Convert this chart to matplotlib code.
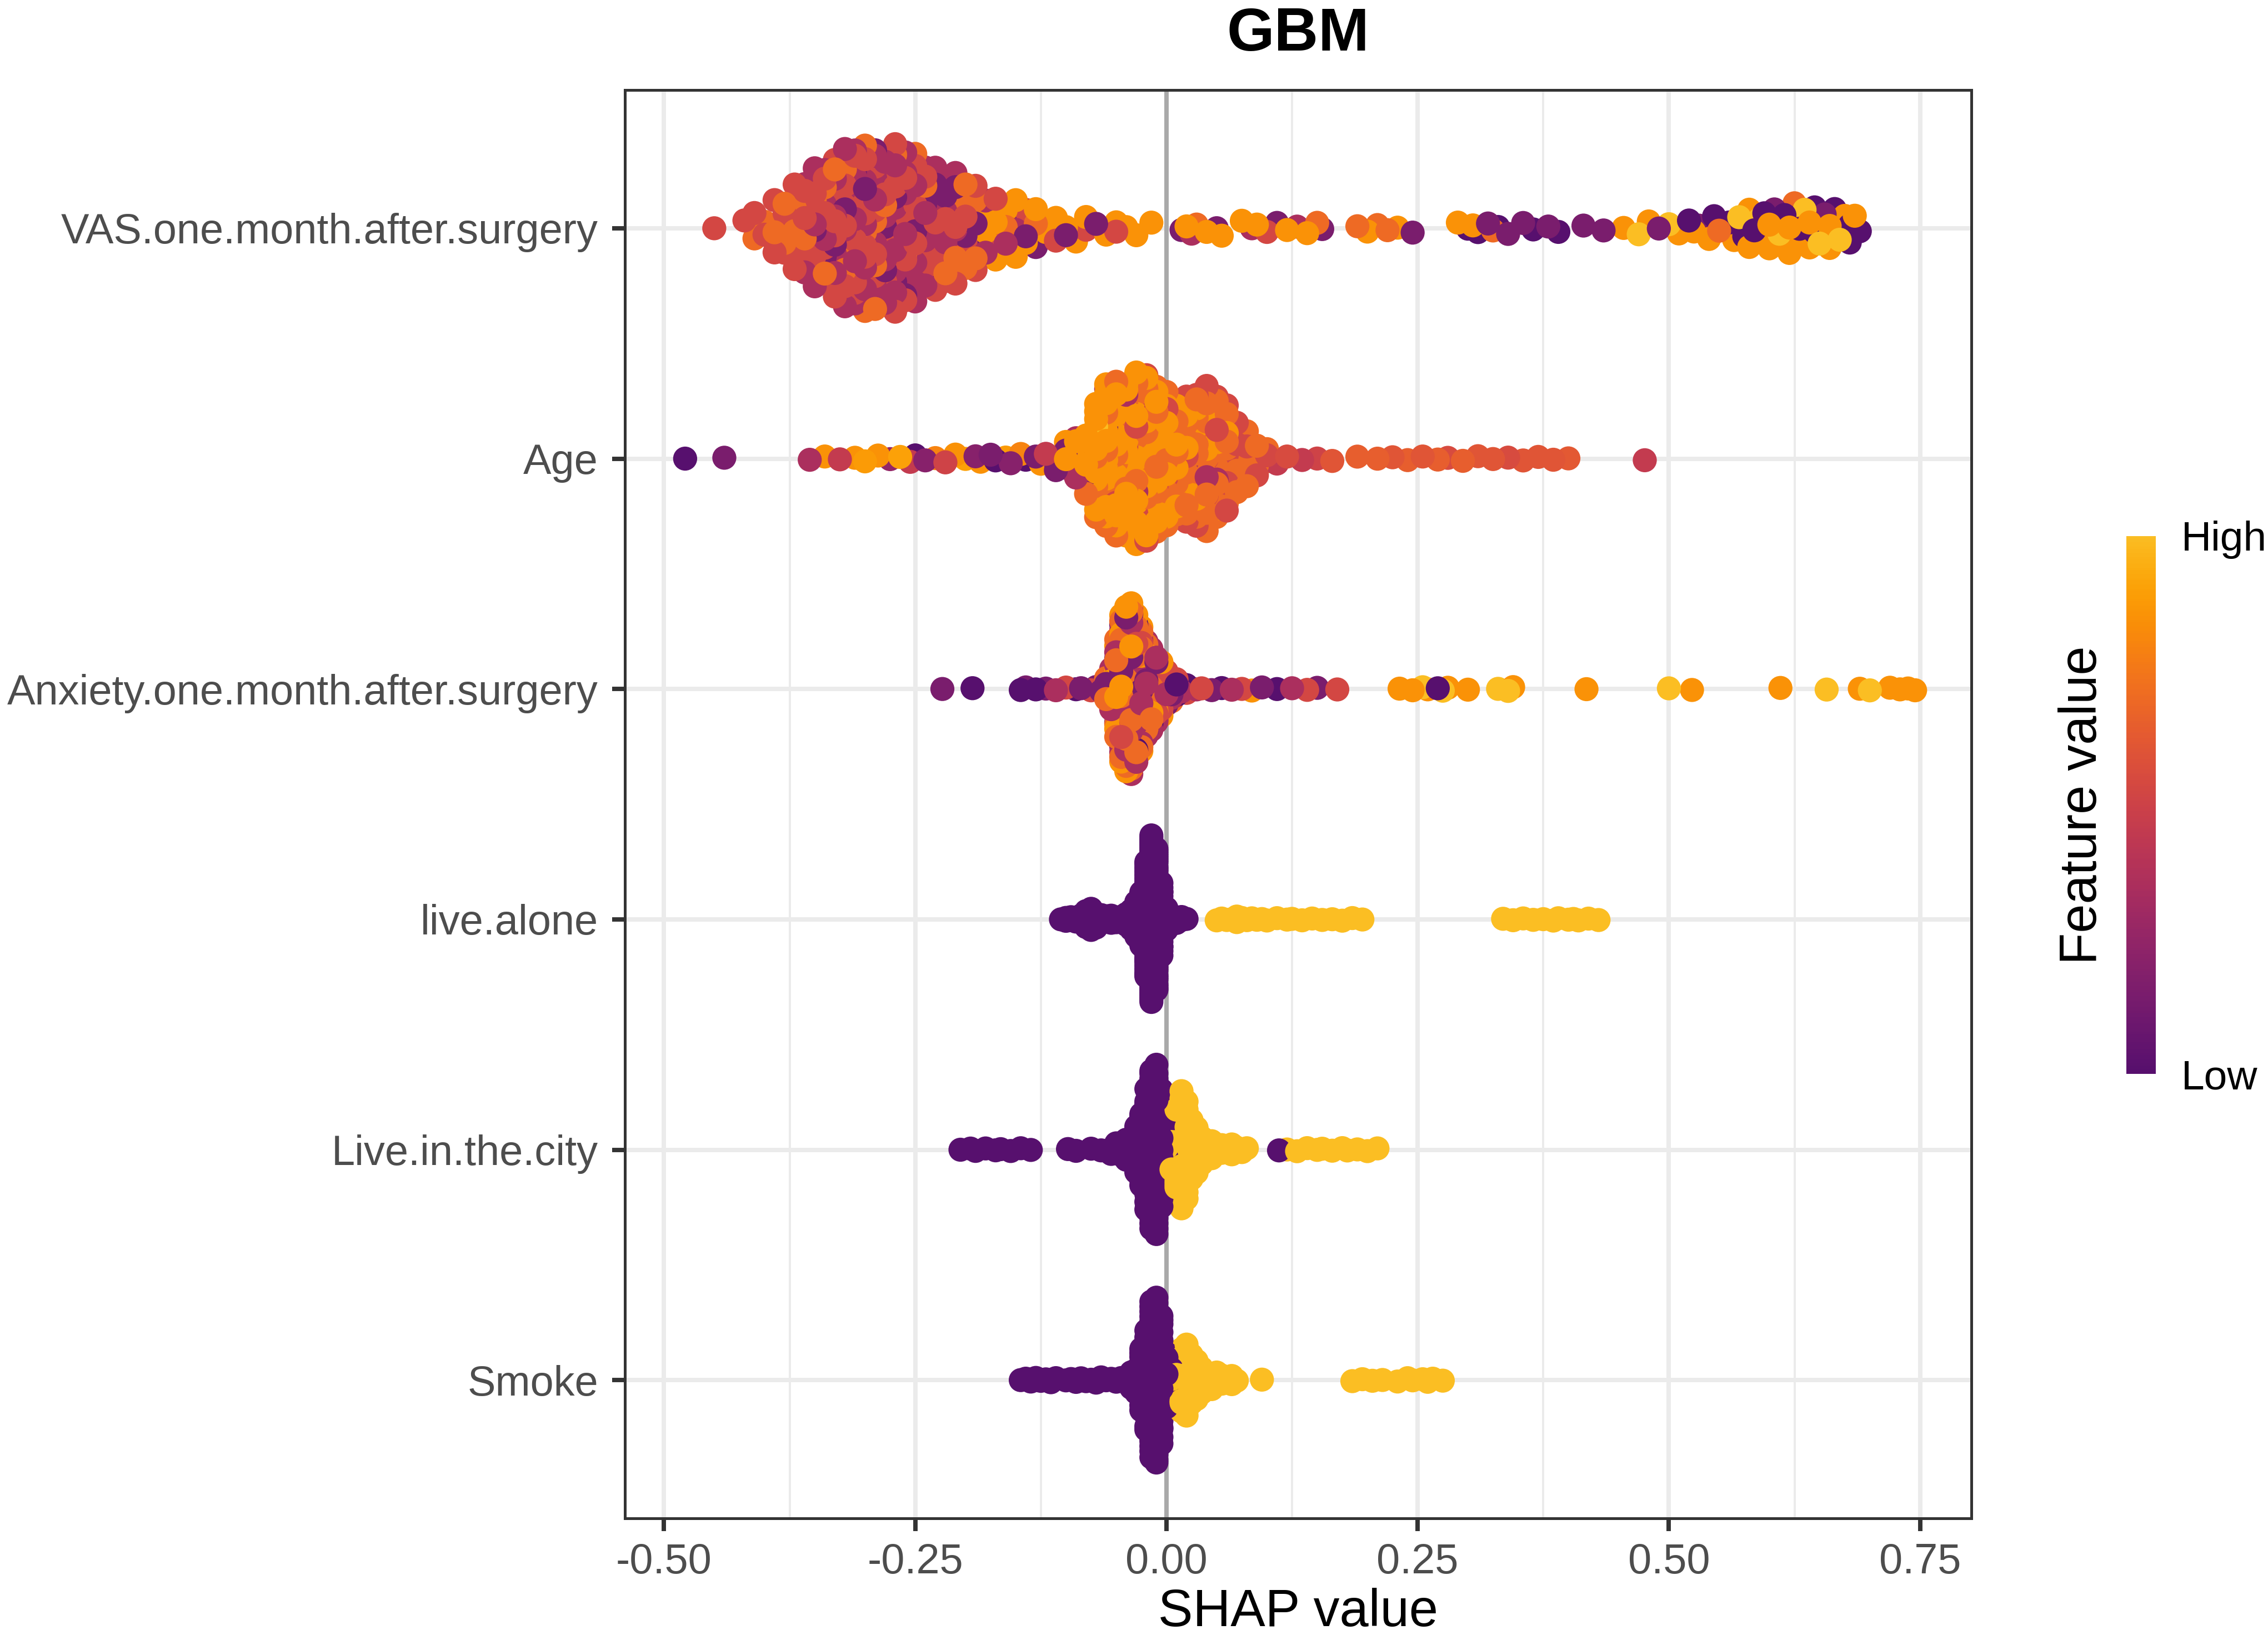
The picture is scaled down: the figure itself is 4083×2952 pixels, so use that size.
import numpy as np
import matplotlib.pyplot as plt
from matplotlib.colors import LinearSegmentedColormap

plt.rcParams['font.family'] = ['Liberation Sans', 'DejaVu Sans']

features = ['VAS.one.month.after.surgery', 'Age', 'Anxiety.one.month.after.surgery',
            'live.alone', 'Live.in.the.city', 'Smoke']

# (SHAP value, scaled feature value 0..1, number of points)
vas = [
    (-0.45, 0.53, 1),
    (-0.42, 0.53, 1), (-0.41, 0.70, 1), (-0.41, 0.53, 1),
    (-0.40, 0.53, 1), (-0.40, 0.70, 1),
    (-0.39, 0.53, 2), (-0.39, 0.70, 1),
    (-0.38, 0.53, 2), (-0.38, 0.70, 2),
    (-0.37, 0.53, 3), (-0.37, 0.70, 2),
    (-0.36, 0.53, 4), (-0.36, 0.35, 2), (-0.36, 0.70, 1),
    (-0.35, 0.53, 4), (-0.35, 0.35, 3), (-0.35, 0.15, 1), (-0.35, 0.70, 1),
    (-0.34, 0.53, 5), (-0.34, 0.35, 3), (-0.34, 0.70, 2), (-0.34, 0.15, 1),
    (-0.33, 0.53, 5), (-0.33, 0.35, 4), (-0.33, 0.70, 2), (-0.33, 0.15, 1),
    (-0.32, 0.53, 5), (-0.32, 0.35, 4), (-0.32, 0.70, 3), (-0.32, 0.15, 1),
    (-0.31, 0.53, 5), (-0.31, 0.35, 5), (-0.31, 0.70, 3), (-0.31, 0.15, 1),
    (-0.30, 0.53, 5), (-0.30, 0.35, 5), (-0.30, 0.70, 3), (-0.30, 0.15, 1),
    (-0.29, 0.53, 5), (-0.29, 0.35, 5), (-0.29, 0.70, 3), (-0.29, 0.15, 1),
    (-0.28, 0.53, 4), (-0.28, 0.35, 5), (-0.28, 0.70, 3), (-0.28, 0.15, 2),
    (-0.27, 0.53, 4), (-0.27, 0.35, 5), (-0.27, 0.70, 2), (-0.27, 0.15, 2),
    (-0.26, 0.53, 4), (-0.26, 0.35, 5), (-0.26, 0.70, 1), (-0.26, 0.15, 2),
    (-0.25, 0.53, 3), (-0.25, 0.35, 5), (-0.25, 0.70, 1), (-0.25, 0.15, 2),
    (-0.24, 0.53, 3), (-0.24, 0.35, 4), (-0.24, 0.15, 2), (-0.24, 0.70, 1),
    (-0.23, 0.53, 3), (-0.23, 0.35, 4), (-0.23, 0.15, 2),
    (-0.22, 0.53, 2), (-0.22, 0.35, 3), (-0.22, 0.70, 1), (-0.22, 0.15, 2),
    (-0.21, 0.53, 2), (-0.21, 0.35, 2), (-0.21, 0.70, 2), (-0.21, 0.15, 1),
    (-0.20, 0.53, 2), (-0.20, 0.70, 2), (-0.20, 0.15, 2),
    (-0.19, 0.70, 2), (-0.19, 0.15, 2), (-0.19, 0.53, 2),
    (-0.18, 0.85, 2), (-0.18, 0.35, 2), (-0.18, 0.53, 1),
    (-0.17, 0.85, 2), (-0.17, 0.53, 2), (-0.17, 0.15, 1),
    (-0.16, 0.85, 2), (-0.16, 0.35, 1), (-0.16, 0.70, 1),
    (-0.15, 0.85, 2), (-0.15, 0.35, 1), (-0.15, 0.15, 1),
    (-0.14, 0.85, 1), (-0.14, 0.53, 1), (-0.14, 0.15, 1),
    (-0.13, 0.70, 1), (-0.13, 0.15, 1), (-0.13, 0.85, 1),
    (-0.12, 0.85, 1), (-0.12, 0.15, 1),
    (-0.11, 0.53, 1), (-0.11, 0.85, 1),
    (-0.10, 0.15, 1), (-0.10, 0.85, 1),
    (-0.09, 0.85, 1), (-0.08, 0.85, 1), (-0.08, 0.53, 1),
    (-0.07, 0.15, 1), (-0.06, 0.85, 1), (-0.05, 0.85, 1), (-0.05, 0.53, 1),
    (-0.04, 0.85, 1), (-0.03, 0.85, 1), (-0.015, 0.85, 1),
    (0.015, 0.15, 1), (0.02, 0.85, 1), (0.025, 0.35, 1), (0.03, 0.70, 1),
    (0.04, 0.85, 1), (0.05, 0.15, 1), (0.055, 0.85, 1),
    (0.075, 0.85, 1), (0.085, 0.35, 1), (0.09, 0.85, 1), (0.10, 0.53, 1),
    (0.11, 0.15, 1), (0.12, 0.85, 1), (0.13, 0.35, 1), (0.14, 0.85, 1),
    (0.15, 0.70, 1), (0.155, 0.15, 1),
    (0.19, 0.70, 1), (0.20, 0.85, 1), (0.21, 0.70, 1), (0.22, 0.70, 1),
    (0.23, 0.85, 1), (0.245, 0.15, 1),
    (0.29, 0.85, 1), (0.30, 0.0, 1), (0.305, 0.85, 1), (0.31, 0.0, 1),
    (0.32, 0.15, 1), (0.325, 0.70, 1), (0.33, 0.0, 1), (0.34, 0.15, 1),
    (0.355, 0.15, 1), (0.365, 0.0, 1), (0.38, 0.15, 1), (0.39, 0.0, 1),
    (0.415, 0.15, 1), (0.435, 0.15, 1),
    (0.455, 0.85, 1), (0.47, 1.0, 1), (0.48, 0.85, 1), (0.49, 0.15, 1),
    (0.50, 1.0, 1), (0.51, 0.85, 1), (0.52, 0.0, 1), (0.525, 0.85, 1),
    (0.53, 0.15, 1), (0.54, 0.85, 1), (0.545, 0.0, 1), (0.55, 0.70, 1),
    (0.56, 0.0, 1), (0.565, 0.85, 1), (0.57, 1.0, 1), (0.575, 0.0, 2),
    (0.58, 0.85, 2), (0.585, 0.0, 1), (0.59, 1.0, 1), (0.595, 0.0, 2),
    (0.60, 0.85, 3), (0.605, 0.15, 1), (0.61, 1.0, 2), (0.615, 0.0, 2),
    (0.62, 0.85, 3), (0.625, 0.70, 1), (0.63, 0.0, 2), (0.635, 1.0, 2),
    (0.64, 0.85, 3), (0.645, 0.0, 2), (0.65, 1.0, 2), (0.655, 0.15, 1),
    (0.66, 0.85, 3), (0.665, 0.0, 2), (0.67, 1.0, 2), (0.675, 0.85, 2),
    (0.68, 0.0, 2), (0.685, 0.85, 1), (0.69, 0.0, 1),
]

age = [
    (-0.479, 0.0, 1), (-0.44, 0.15, 1), (-0.355, 0.35, 1), (-0.34, 0.85, 1),
    (-0.325, 0.45, 1), (-0.31, 0.85, 1), (-0.30, 0.88, 1), (-0.287, 0.85, 1),
    (-0.275, 0.25, 1), (-0.265, 0.90, 1), (-0.255, 0.45, 1), (-0.25, 0.0, 1),
    (-0.24, 0.20, 1), (-0.23, 0.80, 1), (-0.22, 0.50, 1), (-0.21, 0.85, 1),
    (-0.20, 0.90, 1), (-0.19, 0.20, 1), (-0.185, 0.85, 1), (-0.175, 0.15, 1),
    (-0.17, 0.0, 1), (-0.16, 0.88, 1), (-0.155, 0.20, 1), (-0.145, 0.80, 1),
    (-0.14, 0.0, 1), (-0.13, 0.15, 1), (-0.125, 0.85, 1), (-0.12, 0.45, 1),
    (-0.11, 0.35, 2), (-0.11, 0.15, 1),
    (-0.10, 0.85, 2), (-0.10, 0.15, 2),
    (-0.09, 0.85, 3), (-0.09, 0.35, 2),
    (-0.08, 0.85, 4), (-0.08, 0.15, 1), (-0.08, 0.53, 1), (-0.08, 0.70, 1),
    (-0.07, 0.85, 10), (-0.07, 0.35, 2), (-0.07, 1.0, 1), (-0.07, 0.70, 3),
    (-0.06, 0.85, 12), (-0.06, 0.70, 4), (-0.06, 0.35, 2), (-0.06, 0.15, 1),
    (-0.05, 0.85, 11), (-0.05, 0.70, 5), (-0.05, 0.53, 2), (-0.05, 1.0, 1),
    (-0.04, 0.85, 11), (-0.04, 0.70, 5), (-0.04, 0.53, 2), (-0.04, 0.35, 1),
    (-0.03, 0.85, 11), (-0.03, 0.70, 6), (-0.03, 0.53, 3), (-0.03, 0.35, 1),
    (-0.02, 0.85, 10), (-0.02, 0.70, 7), (-0.02, 0.53, 3), (-0.02, 0.15, 1),
    (-0.01, 0.85, 9), (-0.01, 0.70, 7), (-0.01, 0.53, 3), (-0.01, 0.35, 1),
    (0.00, 0.85, 6), (0.00, 0.70, 6), (0.00, 0.53, 3),
    (0.01, 0.85, 4), (0.01, 0.70, 6), (0.01, 0.53, 3),
    (0.02, 0.85, 4), (0.02, 0.70, 7), (0.02, 0.53, 3), (0.02, 0.35, 1),
    (0.03, 0.85, 4), (0.03, 0.70, 9), (0.03, 0.53, 4), (0.03, 0.35, 1),
    (0.04, 0.85, 3), (0.04, 0.70, 9), (0.04, 0.53, 5), (0.04, 0.35, 1),
    (0.05, 0.85, 2), (0.05, 0.70, 8), (0.05, 0.53, 5), (0.05, 0.35, 1),
    (0.06, 0.70, 7), (0.06, 0.53, 5), (0.06, 0.85, 1),
    (0.07, 0.70, 5), (0.07, 0.53, 4), (0.07, 0.35, 1),
    (0.08, 0.70, 4), (0.08, 0.53, 3),
    (0.09, 0.70, 2), (0.09, 0.53, 2),
    (0.10, 0.70, 2), (0.10, 0.53, 1),
    (0.11, 0.45, 1), (0.12, 0.55, 1), (0.135, 0.45, 1), (0.15, 0.50, 1),
    (0.165, 0.60, 1), (0.19, 0.65, 1), (0.21, 0.65, 1), (0.225, 0.60, 1),
    (0.24, 0.65, 1), (0.255, 0.60, 1), (0.27, 0.65, 1), (0.28, 0.55, 1),
    (0.295, 0.65, 1), (0.31, 0.60, 1), (0.325, 0.60, 1), (0.34, 0.55, 1),
    (0.355, 0.60, 1), (0.37, 0.60, 1), (0.385, 0.60, 1), (0.40, 0.62, 1),
    (0.476, 0.45, 1),
]

anxiety = [
    (-0.223, 0.15, 1), (-0.193, 0.0, 1), (-0.145, 0.0, 1), (-0.14, 0.15, 1),
    (-0.13, 0.0, 1), (-0.12, 0.15, 1), (-0.11, 0.35, 1), (-0.10, 0.53, 1),
    (-0.09, 0.0, 1), (-0.085, 0.15, 1), (-0.075, 0.53, 1), (-0.07, 0.15, 1),
    (-0.065, 0.15, 1), (-0.065, 0.85, 1),
    (-0.06, 0.70, 2), (-0.06, 0.15, 2),
    (-0.055, 0.70, 3), (-0.055, 0.35, 3), (-0.055, 0.85, 2),
    (-0.05, 0.70, 6), (-0.05, 0.35, 5), (-0.05, 0.85, 5), (-0.05, 0.0, 2), (-0.05, 0.53, 2),
    (-0.045, 0.70, 8), (-0.045, 0.35, 7), (-0.045, 0.85, 7), (-0.045, 0.15, 4), (-0.045, 0.53, 4),
    (-0.04, 0.70, 9), (-0.04, 0.35, 8), (-0.04, 0.85, 8), (-0.04, 0.15, 4), (-0.04, 0.53, 5),
    (-0.035, 0.70, 9), (-0.035, 0.35, 8), (-0.035, 0.85, 8), (-0.035, 0.15, 4), (-0.035, 0.53, 5),
    (-0.03, 0.70, 8), (-0.03, 0.35, 7), (-0.03, 0.85, 7), (-0.03, 0.0, 3), (-0.03, 0.53, 5),
    (-0.025, 0.70, 6), (-0.025, 0.35, 6), (-0.025, 0.85, 6), (-0.025, 0.15, 3), (-0.025, 0.53, 3),
    (-0.02, 0.70, 5), (-0.02, 0.35, 5), (-0.02, 0.85, 5), (-0.02, 0.15, 3), (-0.02, 0.53, 2),
    (-0.015, 0.70, 4), (-0.015, 0.35, 4), (-0.015, 0.85, 4), (-0.015, 0.0, 2), (-0.015, 0.53, 2),
    (-0.01, 0.53, 4), (-0.01, 0.35, 4), (-0.01, 0.85, 3), (-0.01, 0.15, 3),
    (-0.005, 0.53, 3), (-0.005, 0.15, 3), (-0.005, 0.85, 2), (-0.005, 0.35, 2),
    (0.0, 0.35, 3), (0.0, 0.15, 2), (0.0, 0.53, 2), (0.0, 0.0, 1),
    (0.005, 0.35, 2), (0.005, 0.15, 2), (0.005, 0.70, 1),
    (0.01, 0.53, 2), (0.01, 0.0, 2),
    (0.015, 0.35, 2), (0.015, 0.15, 1),
    (0.02, 0.53, 1), (0.02, 0.0, 1),
    (0.03, 0.35, 1), (0.035, 0.53, 1), (0.045, 0.15, 1),
    (0.055, 0.0, 1), (0.065, 0.35, 1), (0.075, 0.53, 1), (0.085, 0.85, 1),
    (0.095, 0.15, 1), (0.11, 0.0, 1), (0.125, 0.35, 1), (0.14, 0.53, 1),
    (0.15, 0.15, 1), (0.17, 0.53, 1),
    (0.232, 0.85, 1), (0.245, 0.85, 1), (0.255, 1.0, 1), (0.26, 0.85, 1),
    (0.27, 0.0, 1), (0.275, 1.0, 1), (0.28, 0.85, 1), (0.30, 0.85, 1),
    (0.33, 1.0, 1), (0.34, 1.0, 1), (0.345, 0.85, 1),
    (0.418, 0.85, 1), (0.50, 1.0, 1), (0.523, 0.85, 1), (0.611, 0.85, 1),
    (0.657, 1.0, 1), (0.69, 0.85, 1), (0.70, 1.0, 1), (0.72, 0.85, 1),
    (0.73, 0.85, 1), (0.738, 0.85, 1), (0.745, 0.85, 1),
]

live_alone = [
    (-0.105, 0.0, 1), (-0.10, 0.0, 2), (-0.095, 0.0, 2), (-0.09, 0.0, 2),
    (-0.085, 0.0, 3), (-0.08, 0.0, 6), (-0.075, 0.0, 9), (-0.07, 0.0, 6),
    (-0.065, 0.0, 3), (-0.06, 0.0, 3), (-0.055, 0.0, 3), (-0.05, 0.0, 3),
    (-0.045, 0.0, 3), (-0.04, 0.0, 4),
    (-0.035, 0.0, 8), (-0.03, 0.0, 12), (-0.025, 0.0, 20), (-0.02, 0.0, 40),
    (-0.015, 0.0, 60), (-0.01, 0.0, 50), (-0.005, 0.0, 25), (0.0, 0.0, 8),
    (0.005, 0.0, 3), (0.01, 0.0, 3), (0.015, 0.0, 2), (0.02, 0.0, 1),
    (0.05, 1.0, 1), (0.055, 1.0, 1), (0.06, 1.0, 1), (0.065, 1.0, 1),
    (0.07, 1.0, 2), (0.075, 1.0, 2), (0.08, 1.0, 1), (0.085, 1.0, 1),
    (0.09, 1.0, 1), (0.095, 1.0, 1), (0.10, 1.0, 1), (0.11, 1.0, 1),
    (0.12, 1.0, 1), (0.125, 1.0, 1), (0.135, 1.0, 1), (0.145, 1.0, 1),
    (0.155, 1.0, 1), (0.165, 1.0, 1), (0.175, 1.0, 1), (0.185, 1.0, 1),
    (0.195, 1.0, 1),
    (0.335, 1.0, 1), (0.345, 1.0, 1), (0.355, 1.0, 1), (0.365, 1.0, 1),
    (0.375, 1.0, 1), (0.385, 1.0, 1), (0.39, 1.0, 1), (0.40, 1.0, 1),
    (0.405, 1.0, 1), (0.41, 1.0, 1), (0.42, 1.0, 1), (0.43, 1.0, 1),
]

live_city = [
    (-0.205, 0.0, 1), (-0.195, 0.0, 1), (-0.19, 0.0, 1), (-0.18, 0.0, 1),
    (-0.17, 0.0, 1), (-0.165, 0.0, 1), (-0.155, 0.0, 1), (-0.145, 0.0, 1),
    (-0.135, 0.0, 1),
    (-0.098, 0.0, 1), (-0.09, 0.0, 1), (-0.075, 0.0, 1), (-0.065, 0.0, 1),
    (-0.055, 0.0, 2), (-0.05, 0.0, 2), (-0.045, 0.0, 3), (-0.04, 0.0, 4),
    (-0.035, 0.0, 5), (-0.03, 0.0, 7), (-0.025, 0.0, 12), (-0.02, 0.0, 20),
    (-0.015, 0.0, 29), (-0.01, 0.0, 31), (-0.005, 0.0, 22), (0.0, 0.0, 6),
    (0.0, 1.0, 3), (0.005, 1.0, 10), (0.01, 1.0, 18), (0.015, 1.0, 22),
    (0.02, 1.0, 17), (0.025, 1.0, 11), (0.03, 1.0, 8), (0.035, 1.0, 5),
    (0.04, 1.0, 3), (0.045, 1.0, 3), (0.05, 1.0, 2), (0.055, 1.0, 2),
    (0.06, 1.0, 2), (0.065, 1.0, 2), (0.07, 1.0, 2), (0.075, 1.0, 1),
    (0.08, 1.0, 1),
    (0.112, 0.0, 1),
    (0.12, 1.0, 1), (0.13, 1.0, 1), (0.14, 1.0, 1), (0.15, 1.0, 1),
    (0.155, 1.0, 1), (0.165, 1.0, 1), (0.175, 1.0, 1), (0.18, 1.0, 1),
    (0.19, 1.0, 1), (0.20, 1.0, 1), (0.21, 1.0, 1),
]

smoke = [
    (-0.145, 0.0, 1), (-0.14, 0.0, 1), (-0.135, 0.0, 1), (-0.13, 0.0, 1),
    (-0.125, 0.0, 1), (-0.12, 0.0, 1), (-0.115, 0.0, 1), (-0.11, 0.0, 1),
    (-0.10, 0.0, 1), (-0.095, 0.0, 1), (-0.09, 0.0, 1), (-0.085, 0.0, 1),
    (-0.08, 0.0, 1), (-0.075, 0.0, 1), (-0.07, 0.0, 1), (-0.065, 0.0, 1),
    (-0.06, 0.0, 1), (-0.055, 0.0, 1), (-0.05, 0.0, 1), (-0.045, 0.0, 1),
    (-0.04, 0.0, 1),
    (-0.035, 0.0, 3), (-0.03, 0.0, 6), (-0.025, 0.0, 10), (-0.02, 0.0, 18),
    (-0.015, 0.0, 30), (-0.01, 0.0, 34), (-0.005, 0.0, 24), (0.0, 0.0, 8),
    (0.005, 0.0, 2),
    (0.005, 1.0, 3), (0.01, 1.0, 8), (0.015, 1.0, 13), (0.02, 1.0, 14),
    (0.025, 1.0, 10), (0.03, 1.0, 7), (0.035, 1.0, 5), (0.04, 1.0, 4),
    (0.045, 1.0, 3), (0.05, 1.0, 3), (0.055, 1.0, 2), (0.06, 1.0, 2),
    (0.065, 1.0, 2), (0.07, 1.0, 1), (0.095, 1.0, 1),
    (0.185, 1.0, 1), (0.195, 1.0, 1), (0.205, 1.0, 1), (0.215, 1.0, 1),
    (0.23, 1.0, 1), (0.24, 1.0, 1), (0.245, 1.0, 1), (0.255, 1.0, 1),
    (0.26, 1.0, 1), (0.265, 1.0, 1), (0.275, 1.0, 1),
]

rows = [vas, age, anxiety, live_alone, live_city, smoke]
x_ticks = [-0.5, -0.25, 0.0, 0.25, 0.5, 0.75]
x_labels = ['-0.50', '-0.25', '0.00', '0.25', '0.50', '0.75']


def bw_nrd0(x):
    hi = np.std(x, ddof=1)
    q75, q25 = np.percentile(x, [75, 25])
    lo = min(hi, (q75 - q25) / 1.34)
    if lo <= 0:
        lo = hi if hi > 0 else 1.0
    return 0.9 * lo * len(x) ** -0.2


def halton(n, base=2):
    out = np.zeros(n)
    for i in range(n):
        f, r, k = 1.0, 0.0, i + 1
        while k > 0:
            f /= base
            r += f * (k % base)
            k //= base
        out[i] = r
    return out


def bee_offsets(x, width=0.38, adjust=0.5):
    # quasirandom vertical shift scaled by the kernel density at each point
    bw = bw_nrd0(x) * adjust
    grid = np.linspace(x.min() - 3 * bw, x.max() + 3 * bw, 1024)
    dens = np.exp(-0.5 * ((grid[:, None] - x[None, :]) / bw) ** 2).sum(axis=1)
    dens /= dens.max()
    d = np.interp(x, grid, dens)
    rank = np.argsort(np.argsort(x, kind='stable'), kind='stable')
    shift = halton(len(x))[rank] - 0.5
    return 2 * shift * d * width


cmap = LinearSegmentedColormap.from_list('inferno_cut', plt.cm.inferno(np.linspace(0.25, 0.85, 256)))

xs, ys, vs = [], [], []
for i, row in enumerate(rows):
    sx = np.repeat([r[0] for r in row], [r[2] for r in row]).astype(float)
    sv = np.repeat([r[1] for r in row], [r[2] for r in row]).astype(float)
    xs.append(sx)
    ys.append(i + 1 + bee_offsets(sx))
    vs.append(sv)
xs = np.concatenate(xs)
ys = np.concatenate(ys)
vs = np.concatenate(vs)
order = np.argsort((np.arange(len(xs)) * 0.6180339887) % 1.0)

fig = plt.figure(figsize=(4083 / 300, 2952 / 300), dpi=300)
ax = fig.add_axes([0.2755, 0.0742, 0.5937, 0.8709])

ax.axvline(0, color='#a9a9a9', lw=1.9, zorder=1.5)
ax.scatter(xs[order], ys[order], c=vs[order], cmap=cmap, vmin=0, vmax=1,
           s=108, linewidths=0, zorder=2)

ax.set_xlim(-0.539, 0.801)
ax.set_ylim(6.6, 0.4)
ax.set_xticks(x_ticks)
ax.set_xticklabels(x_labels)
ax.set_xticks([-0.375, -0.125, 0.125, 0.375, 0.625], minor=True)
ax.set_yticks(range(1, len(features) + 1))
ax.set_yticklabels(features)
ax.tick_params(which='major', length=5.5, width=1.9, color='#333333',
               labelcolor='#4d4d4d', labelsize=18.2)
ax.tick_params(axis='x', which='major', pad=5)
ax.tick_params(axis='y', which='major', pad=6)
ax.tick_params(which='minor', length=0)
ax.grid(which='major', color='#ebebeb', lw=1.9)
ax.grid(which='minor', axis='x', color='#ebebeb', lw=0.95)
ax.set_axisbelow(True)
for sp in ax.spines.values():
    sp.set_color('#333333')
    sp.set_linewidth(1.2)

cx = 0.5724
fig.text(cx, 0.9692, 'GBM', ha='center', va='baseline', fontsize=26.4, fontweight='bold')
fig.text(cx, 0.0085, 'SHAP value', ha='center', va='baseline', fontsize=22.5)

# colour bar
cax = fig.add_axes([0.9375, 0.3452, 0.01274, 0.3279])
cax.imshow(np.linspace(0, 1, 256)[:, None], aspect='auto', cmap=cmap,
           origin='lower', extent=[0, 1, 0, 1])
cax.axis('off')
fig.text(0.9184, 0.5091, 'Feature value', rotation=90, ha='center', va='center', fontsize=22.5)
fig.text(0.9618, 0.6643, 'High', ha='left', va='baseline', fontsize=18)
fig.text(0.9618, 0.336, 'Low', ha='left', va='baseline', fontsize=18)

fig.savefig('out.png', dpi=300)
